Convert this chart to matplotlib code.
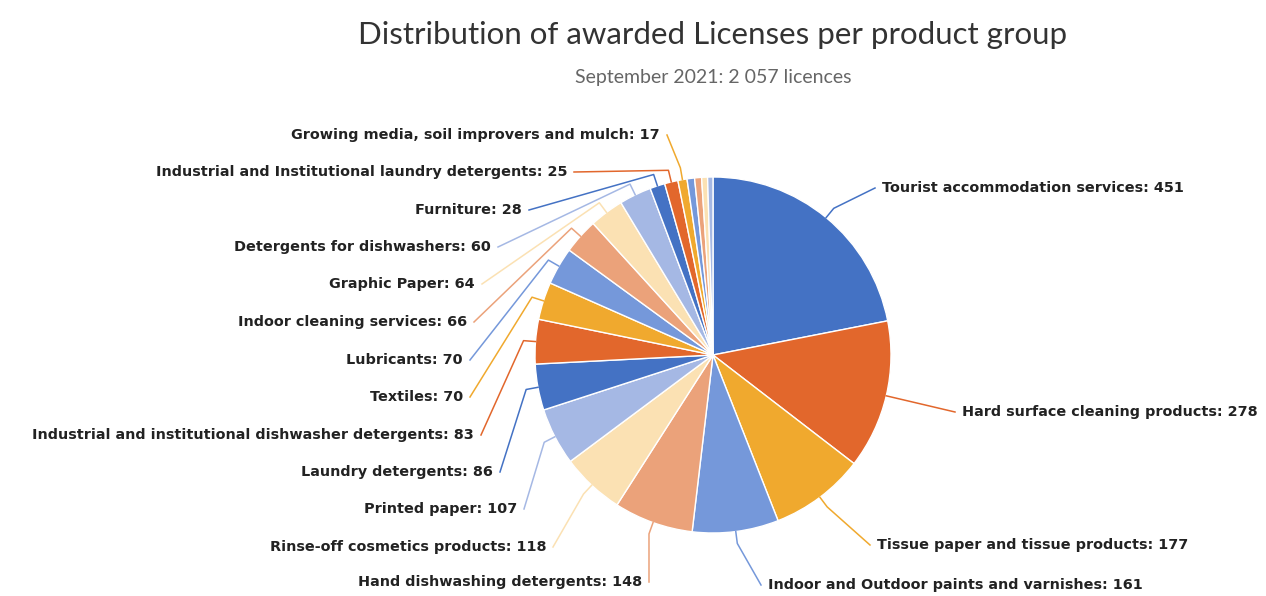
import matplotlib.pyplot as plt
import numpy as np

# licences per product group, clockwise from 12 o'clock
categories = [
    "Tourist accommodation services",
    "Hard surface cleaning products",
    "Tissue paper and tissue products",
    "Indoor and Outdoor paints and varnishes",
    "Hand dishwashing detergents",
    "Rinse-off cosmetics products",
    "Printed paper",
    "Laundry detergents",
    "Industrial and institutional dishwasher detergents",
    "Textiles",
    "Lubricants",
    "Indoor cleaning services",
    "Graphic Paper",
    "Detergents for dishwashers",
    "Furniture",
    "Industrial and Institutional laundry detergents",
    "Growing media, soil improvers and mulch",
    "", "", "", "",
]
values = [451, 278, 177, 161, 148, 118, 107, 86, 83, 70, 70, 66, 64, 60, 28, 25, 17,
          14, 13, 11, 10]

palette = ['#4472c4', '#e2672c', '#f0a92e', '#7598da', '#eba27a', '#fbe1b3', '#a5b8e4']
colors = [palette[i % len(palette)] for i in range(len(values))]

# label text anchors in image pixels (x, y from top); 'L' right-aligned, 'R' left-aligned
label_layout = [
    (882, 188, 'R'), (962, 412, 'R'), (877, 545, 'R'), (768, 585, 'R'),
    (642, 582, 'L'), (546, 547, 'L'), (517, 509, 'L'), (493, 472, 'L'),
    (474, 435, 'L'), (463, 397, 'L'), (463, 360, 'L'), (467, 322, 'L'),
    (475, 284, 'L'), (491, 247, 'L'), (522, 210, 'L'), (567, 172, 'L'),
    (660, 135, 'L'),
]

W, H = 1266, 596
fig = plt.figure(figsize=(W / 100, H / 100), dpi=100)
ax = fig.add_axes([0, 0, 1, 1])

cx, cy, r = 713, H - 355, 178
wedges, _ = ax.pie(values, colors=colors, startangle=90, counterclock=False,
                   center=(cx, cy), radius=r,
                   wedgeprops=dict(edgecolor='white', linewidth=1))
ax.set_xlim(0, W)
ax.set_ylim(0, H)
ax.set_aspect('equal')
ax.axis('off')

for w, name, val, lay in zip(wedges, categories, values, label_layout):
    mid = np.deg2rad((w.theta1 + w.theta2) / 2)
    ex, ey = cx + r * np.cos(mid), cy + r * np.sin(mid)
    ox, oy = cx + (r + 12) * np.cos(mid), cy + (r + 12) * np.sin(mid)
    lx, ly, side = lay
    ly = H - ly
    if side == 'L':
        ha, px = 'right', lx + 7
    else:
        ha, px = 'left', lx - 7
    ax.plot([ex, ox, px], [ey, oy, ly], color=w.get_facecolor(), lw=1.1)
    ax.text(lx, ly, f"{name}: {val}", ha=ha, va='center', fontsize=10.4,
            fontweight='bold', color='#222222', family='DejaVu Sans')

fig.text(713 / W, 1 - 35 / H, "Distribution of awarded Licenses per product group",
         ha='center', va='center', fontsize=22.5, color='#333333', family='Lato')
fig.text(713 / W, 1 - 77 / H, "September 2021: 2 057 licences",
         ha='center', va='center', fontsize=14, color='#666666', family='Lato')

fig.savefig('out.png', dpi=100, facecolor='white')
